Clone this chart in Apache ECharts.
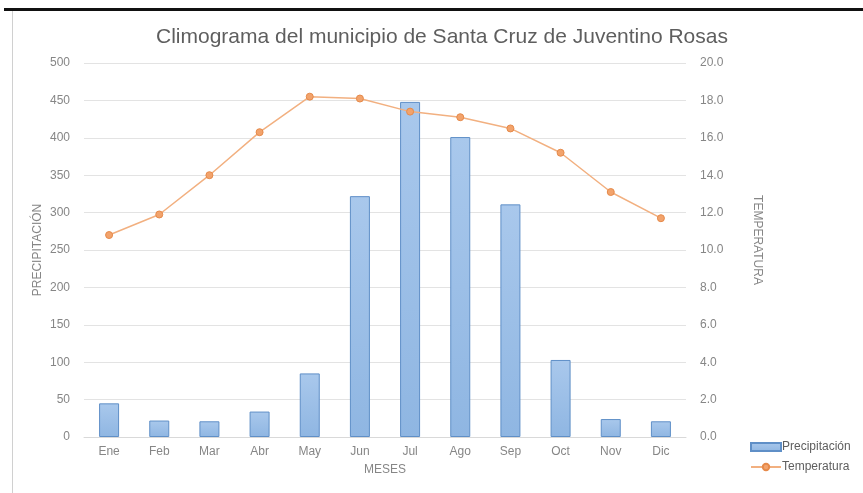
<!DOCTYPE html>
<html>
<head>
<meta charset="utf-8">
<script src="https://cdn.jsdelivr.net/npm/echarts@6/dist/echarts.min.js"></script>
<style>
  html, body { margin: 0; padding: 0; background: #fff; }
  #chart { width: 863px; height: 493px; }
</style>
</head>
<body>
<div id="chart"></div>
<script>
// Monthly climate data
const meses = ['Ene', 'Feb', 'Mar', 'Abr', 'May', 'Jun', 'Jul', 'Ago', 'Sep', 'Oct', 'Nov', 'Dic'];
const precipitacion = [45, 22, 21, 34, 85, 322, 448, 401, 311, 103, 24, 21];
const temperatura = [10.8, 11.9, 14.0, 16.3, 18.2, 18.1, 17.4, 17.1, 16.5, 15.2, 13.1, 11.7];

const labelColor = '#868686';
const font = 'Liberation Sans, Arial, sans-serif';

const chart = echarts.init(document.getElementById('chart'));
chart.setOption({
  backgroundColor: '#fff',
  animation: false,
  title: {
    text: 'Climograma del municipio de Santa Cruz de Juventino Rosas',
    left: 151,
    top: 22,
    textStyle: { color: '#5e5e5e', fontSize: 21, fontWeight: 'normal', fontFamily: font }
  },
  graphic: [
    { type: 'rect', shape: { x: 4, y: 8, width: 859, height: 3 }, style: { fill: '#111' } },
    { type: 'rect', shape: { x: 12, y: 11, width: 1, height: 482 }, style: { fill: '#d0d0d0' } }
  ],
  legend: {
    orient: 'vertical',
    left: 745,
    top: 436,
    itemGap: 8,
    itemWidth: 30,
    itemHeight: 8,
    textStyle: { color: '#5e5e5e', fontSize: 12, fontFamily: font, padding: [0, 0, 0, -4] },
    data: [
      { name: 'Precipitación', icon: 'rect' },
      { name: 'Temperatura' }
    ]
  },
  grid: { left: 84, right: 177, top: 63, bottom: 56, containLabel: false },
  xAxis: {
    type: 'category',
    data: meses,
    name: 'MESES',
    nameLocation: 'middle',
    nameGap: 27,
    nameMoveOverlap: false,
    nameTextStyle: { color: labelColor, fontSize: 12, fontFamily: font },
    axisLine: { lineStyle: { color: '#d9d9d9' } },
    axisTick: { show: false },
    axisLabel: { color: labelColor, fontSize: 12, fontFamily: font, margin: 9 }
  },
  yAxis: [
    {
      type: 'value',
      min: 0, max: 500, interval: 50,
      name: 'PRECIPITACIÓN',
      nameLocation: 'middle',
      nameGap: 40,
      nameMoveOverlap: false,
      nameTextStyle: { color: labelColor, fontSize: 12, fontFamily: font },
      axisLine: { show: false },
      axisTick: { show: false },
      axisLabel: { color: labelColor, fontSize: 12, fontFamily: font, margin: 14 },
      splitLine: { lineStyle: { color: '#e3e3e3' } }
    },
    {
      type: 'value',
      min: 0, max: 20, interval: 2,
      name: 'TEMPERATURA',
      nameLocation: 'middle',
      nameRotate: -90,
      nameGap: 65,
      nameMoveOverlap: false,
      nameTextStyle: { color: labelColor, fontSize: 12, fontFamily: font, padding: [0, 20, 0, 0] },
      axisLine: { show: false },
      axisTick: { show: false },
      axisLabel: {
        color: labelColor, fontSize: 12, fontFamily: font, margin: 14,
        formatter: v => v.toFixed(1)
      },
      splitLine: { show: false }
    }
  ],
  series: [
    {
      name: 'Precipitación',
      type: 'bar',
      yAxisIndex: 0,
      data: precipitacion,
      barWidth: 20,
      itemStyle: {
        color: new echarts.graphic.LinearGradient(0, 0, 0, 1, [
          { offset: 0, color: '#a9c8ec' },
          { offset: 1, color: '#8fb6e2' }
        ]),
        borderColor: '#5f8fc7',
        borderWidth: 1
      }
    },
    {
      name: 'Temperatura',
      type: 'line',
      yAxisIndex: 1,
      data: temperatura,
      symbol: 'circle',
      symbolSize: 7,
      lineStyle: { color: '#f2b080', width: 1.5 },
      itemStyle: { color: '#f2a36c', borderColor: '#e68a4a', borderWidth: 1 }
    }
  ]
});
</script>
</body>
</html>
